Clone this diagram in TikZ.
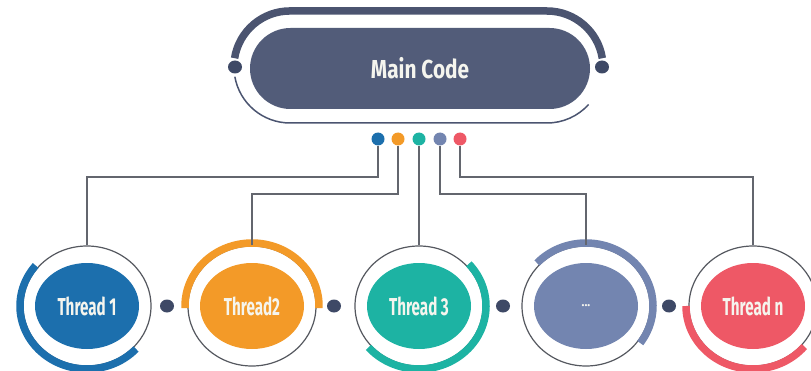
\documentclass[tikz,border=0pt]{standalone}
\usepackage{fontspec}
\newfontfamily\labelfont{Fira Sans}
\usetikzlibrary{shapes.geometric}

\definecolor{pillfill}{HTML}{525C79}
\definecolor{framecol}{HTML}{4B5470}
\definecolor{jointcol}{HTML}{3E4966}
\definecolor{ringcol}{HTML}{55585F}
\definecolor{linkcol}{HTML}{63666E}
\definecolor{labelcol}{HTML}{F5F5EE}
\definecolor{cblue}{HTML}{1C6FAD}
\definecolor{corange}{HTML}{F39A28}
\definecolor{cteal}{HTML}{1DB3A3}
\definecolor{cslate}{HTML}{7385B0}
\definecolor{cred}{HTML}{EE5866}

\tikzset{
  pill/.style={rectangle, fill=pillfill, rounded corners=40.5pt,
    minimum width=340pt, minimum height=81pt, inner sep=0pt,
    text=labelcol, font=\labelfont\bfseries\fontsize{26}{26}\selectfont},
  hub/.style={circle, inner sep=0pt, minimum size=13pt},
  joint/.style={ellipse, fill=jointcol, inner sep=0pt,
    minimum width=14pt, minimum height=13pt},
  ring/.style={ellipse, draw=ringcol, line width=1.2pt, inner sep=0pt,
    minimum width=128pt, minimum height=120pt},
  core/.style={ellipse, inner sep=0pt, minimum width=104pt, minimum height=86pt,
    text=labelcol, font=\labelfont\bfseries\fontsize{24.5}{24.5}\selectfont},
  link/.style={draw=linkcol, line width=1.5pt},
  band/.style={line width=7.5pt},
  frameline/.style={draw=framecol, line width=1.5pt},
}

\newcommand{\narrow}[2]{\scalebox{#1}[1]{#2}}

\begin{document}
\begin{tikzpicture}[x=1pt,y=1pt]
\useasboundingbox (0,0) rectangle (811,370);

% main code block with its open frame
\draw[framecol, band] (234.6,311.8) arc[start angle=171, end angle=90, radius=56]
  -- (547,359) arc[start angle=90, end angle=9, radius=56];
\draw[frameline] (234.85,293.3) arc[start angle=190, end angle=270, radius=56]
  -- (547,247) arc[start angle=270, end angle=318, radius=56];
\node[joint] (fl) at (235,303) {};
\node[joint] (fr) at (602,303) {};
\node[pill] (main) at (420,301.5) {\narrow{0.8}{Main Code}};

% coloured hubs below the main block
\node[hub, fill=cblue]   (h1) at (378,231) {};
\node[hub, fill=corange] (h2) at (398,231) {};
\node[hub, fill=cteal]   (h3) at (419,231) {};
\node[hub, fill=cslate]  (h4) at (440,231) {};
\node[hub, fill=cred]    (h5) at (460,231) {};

% thread rings
\node[ring] (r1) at (87,64)  {};
\node[ring] (r2) at (252,64) {};
\node[ring] (r3) at (419,64) {};
\node[ring] (r4) at (586,64) {};
\node[ring] (r5) at (753,64) {};

% coloured partial bands
\draw[cblue, band]   ([shift={(140:67pt and 63pt)}]r1.center) arc[start angle=140, end angle=317, x radius=67, y radius=63];
\draw[corange, band] ([shift={(-2:67pt and 63pt)}]r2.center) arc[start angle=-2, end angle=182, x radius=67, y radius=63];
\draw[cteal, band]   ([shift={(42:67pt and 63pt)}]r3.center) arc[start angle=42, end angle=-139, x radius=67, y radius=63];
\draw[cslate, band]  ([shift={(137:67pt and 63pt)}]r4.center) arc[start angle=137, end angle=-36, x radius=67, y radius=63];
\draw[cred, band]    ([shift={(180:67pt and 63pt)}]r5.center) arc[start angle=180, end angle=320, x radius=67, y radius=63];

% filled thread discs
\node[core, fill=cblue]   (t1) at (87,64)  {\narrow{0.62}{Thread 1}};
\node[core, fill=corange] (t2) at (252,64) {\narrow{0.62}{Thread2}};
\node[core, fill=cteal]   (t3) at (419,64) {\narrow{0.62}{Thread 3}};
\node[core, fill=cslate]  (t4) at (586,64) {\fontsize{12}{12}\selectfont ...};
\node[core, fill=cred]    (t5) at (753,64) {\narrow{0.62}{Thread n}};

% joints between neighbouring threads
\node[joint] (j1) at (167,64) {};
\node[joint] (j2) at (334,64) {};
\node[joint] (j3) at (503,64) {};
\node[joint] (j4) at (669,64) {};

% connectors from hubs to threads
\draw[link] (h1.south) -- ++(0,-31.5) -| (r1.north);
\draw[link] (h2.south) -- ++(0,-48.5) -| (r2.north);
\draw[link] (h3.south) -- (r3.north);
\draw[link] (h4.south) -- ++(0,-48.5) -| (r4.north);
\draw[link] (h5.south) -- ++(0,-31.5) -| (r5.north);
\end{tikzpicture}
\end{document}
